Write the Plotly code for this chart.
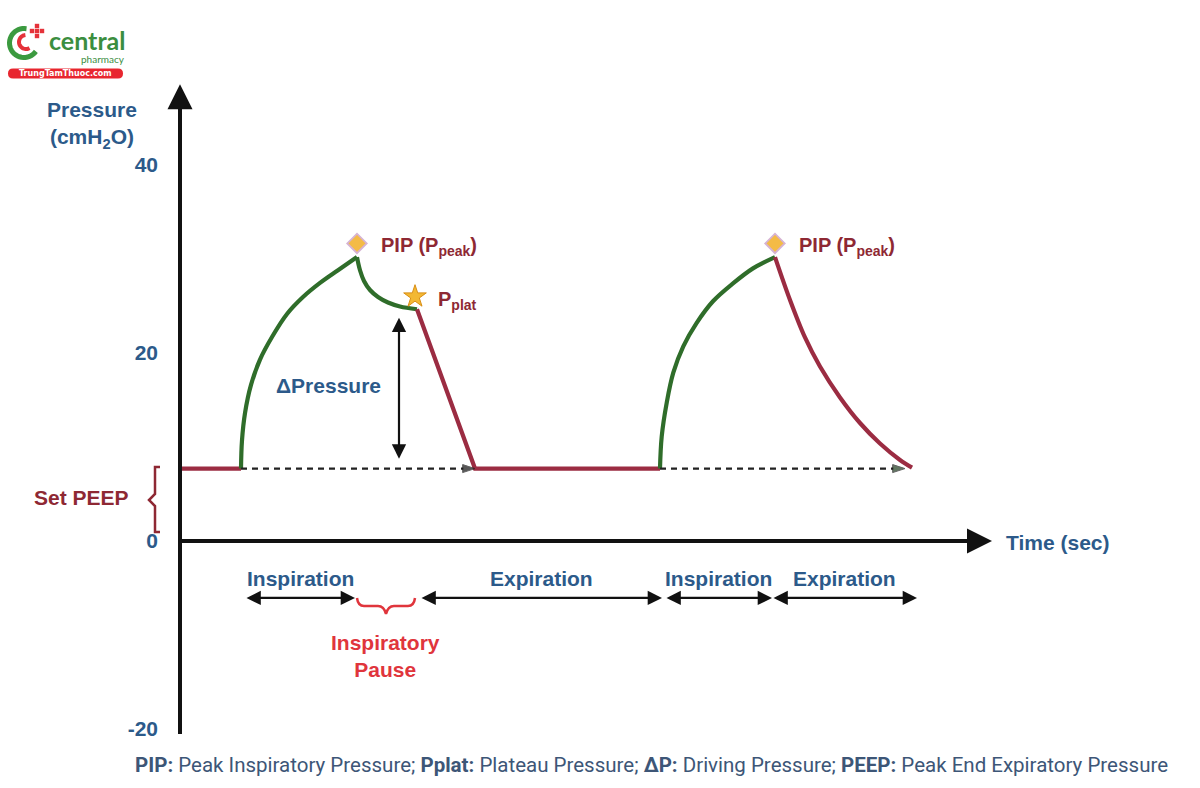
import math
import plotly.graph_objects as go

# ---------------- data (time in s, pressure in cmH2O) ----------------
peep = 7.7
baseline_t = [0.0, 0.61]
baseline_p = [peep, peep]

insp1_t = [0.61, 0.62, 0.65, 0.71, 0.80, 0.92, 1.07, 1.23, 1.40, 1.58, 1.77]
insp1_p = [7.7, 10.7, 13.6, 16.6, 19.3, 21.7, 24.15, 25.95, 27.45, 28.8, 30.2]

pause_t = [1.77, 1.80, 1.84, 1.90, 1.98, 2.08, 2.20, 2.37]
pause_p = [30.2, 28.8, 27.66, 26.7, 25.96, 25.37, 24.95, 24.65]

exp1_t = [2.37, 2.95, 4.80]
exp1_p = [24.65, 7.7, 7.7]

insp2_t = [4.80, 4.817, 4.867, 4.933, 5.033, 5.167, 5.33, 5.53, 5.73, 5.95]
insp2_p = [7.7, 11.1, 14.7, 17.9, 20.7, 23.2, 25.5, 27.4, 29.0, 30.2]

exp2_t = [5.95, 6.10, 6.25, 6.40, 6.60, 6.80, 7.00, 7.20, 7.32]
exp2_p = [30.2, 25.64, 21.65, 18.56, 15.27, 12.55, 10.37, 8.62, 7.8]

y_ticks = [40, 20, 0, -20]
y_tick_labels = ["40", "20", "0", "-20"]

phases = ["Inspiration", "Expiration", "Inspiration", "Expiration"]
phase_start = [0.65, 2.40, 4.85, 5.92]
phase_end = [1.75, 4.82, 5.92, 7.37]

# ---------------- styling ----------------
GREEN = "#2f6d2a"
MAROON = "#9b2c42"
BLUE = "#2c5a8a"
TXT_RED = "#8e2833"
BRIGHT_RED = "#e0353c"
FONT = "Liberation Sans"
FS = 21

X_RANGE = [-1.8, 10.2]
Y_RANGE = [-26.28, 57.55]
W, H = 1200, 788


def px2x(px):
    return X_RANGE[0] + px / W * (X_RANGE[1] - X_RANGE[0])


def py2y(py):
    return Y_RANGE[1] - py / H * (Y_RANGE[1] - Y_RANGE[0])


fig = go.Figure()


def line(t, p, color, spline=True):
    fig.add_trace(go.Scatter(
        x=t, y=p, mode="lines",
        line=dict(color=color, width=4.2, shape="spline" if spline else "linear", smoothing=1.0),
        hoverinfo="skip", showlegend=False))


line(baseline_t, baseline_p, MAROON, spline=False)
line(insp1_t, insp1_p, GREEN)
line(pause_t, pause_p, GREEN)
line(exp1_t, exp1_p, MAROON, spline=False)
line(insp2_t, insp2_p, GREEN)
line(exp2_t, exp2_p, MAROON)

# dashed reference arrows at PEEP level
for t0, t1, col in [(insp1_t[0], exp1_t[1], "#111111"), (insp2_t[0], exp2_t[-1] - 0.07, "#1f3d1f")]:
    fig.add_trace(go.Scatter(
        x=[t0, t1], y=[peep, peep], mode="lines+markers",
        line=dict(color="#222222", width=2.2, dash="6px,5px"),
        marker=dict(symbol="arrow", angleref="previous", size=[0, 13], color=col),
        hoverinfo="skip", showlegend=False))

# PIP and Pplat markers
fig.add_trace(go.Scatter(
    x=[insp1_t[-1], insp2_t[-1]], y=[insp1_p[-1] + 1.45, insp2_p[-1] + 1.45],
    mode="markers",
    marker=dict(symbol="diamond", size=15, color="#f4bb46", line=dict(color="#d6b3d3", width=1.8)),
    hoverinfo="skip", showlegend=False))
fig.add_trace(go.Scatter(
    x=[pause_t[-1] - 0.02], y=[pause_p[-1] + 1.35],
    mode="markers",
    marker=dict(symbol="star", size=17, color="#f3b833", line=dict(color="#d98e14", width=1)),
    hoverinfo="skip", showlegend=False))

ann = []

# axes arrows
ann.append(dict(x=0, y=48.6, ax=0, ay=-20.7, xref="x", yref="y", axref="x", ayref="y",
                showarrow=True, arrowhead=2, arrowwidth=4, arrowsize=1.25, arrowcolor="#111111", text=""))
ann.append(dict(x=8.12, y=0, ax=-0.02, ay=0, xref="x", yref="y", axref="x", ayref="y",
                showarrow=True, arrowhead=2, arrowwidth=4, arrowsize=1.25, arrowcolor="#111111", text=""))

# Delta pressure double arrow
ann.append(dict(x=2.19, y=pause_p[-1] - 0.9, ax=2.19, ay=peep + 0.9, xref="x", yref="y", axref="x", ayref="y",
                showarrow=True, arrowhead=2, arrowside="end+start", arrowwidth=2.2, arrowsize=1.3,
                arrowcolor="#111111", text=""))
ann.append(dict(x=1.485, y=16.5, xanchor="center", yanchor="middle", text="<b>ΔPressure</b>", showarrow=False,
                font=dict(family=FONT, size=FS, color=BLUE)))

# PIP / Pplat labels
for tp, pp in [(insp1_t[-1], insp1_p[-1]), (insp2_t[-1], insp2_p[-1])]:
    ann.append(dict(x=tp + 0.215, y=pp + 1.1, xanchor="left", yanchor="middle",
                    text="<b>PIP (P<sub>peak</sub>)</b>", showarrow=False,
                    font=dict(family=FONT, size=20, color=TXT_RED)))
ann.append(dict(x=pause_t[-1] + 0.19, y=pause_p[-1] + 0.9, xanchor="left", yanchor="middle",
                text="<b>P<sub>plat</sub></b>",
                showarrow=False, font=dict(family=FONT, size=20, color=TXT_RED)))

# phase arrows and labels
arrow_y = -6.06
for name, s, e in zip(phases, phase_start, phase_end):
    ann.append(dict(x=e, y=arrow_y, ax=s, ay=arrow_y, xref="x", yref="y", axref="x", ayref="y",
                    showarrow=True, arrowhead=2, arrowside="end+start", arrowwidth=2.2, arrowsize=1.3,
                    arrowcolor="#111111", text=""))
    ann.append(dict(x=(s + e) / 2, y=-4.0, xanchor="center", yanchor="middle", text=f"<b>{name}</b>",
                    showarrow=False, font=dict(family=FONT, size=FS, color=BLUE)))

ann.append(dict(x=px2x(385), y=py2y(656), xanchor="center", yanchor="middle",
                text="<b>Inspiratory<br>Pause</b>", showarrow=False,
                font=dict(family=FONT, size=FS, color=BRIGHT_RED)))

# Set PEEP label
ann.append(dict(x=px2x(81), y=py2y(497), xanchor="center", yanchor="middle", text="<b>Set PEEP</b>",
                showarrow=False, font=dict(family=FONT, size=FS, color=TXT_RED)))

# axis titles
ann.append(dict(xref="paper", yref="paper", x=92 / W, y=1 - 125 / H, xanchor="center", yanchor="middle",
                text="<b>Pressure<br>(cmH<sub>2</sub>O)</b>", showarrow=False,
                font=dict(family=FONT, size=FS, color=BLUE)))
ann.append(dict(x=px2x(1004), y=-0.2, xanchor="left", yanchor="middle", text="<b>Time (sec)</b>",
                showarrow=False, font=dict(family=FONT, size=FS, color=BLUE)))

# footnote
ann.append(dict(xref="paper", yref="paper", x=651 / W, y=1 - 765 / H, xanchor="center", yanchor="middle",
                text=("<b>PIP:</b> Peak Inspiratory Pressure; <b>Pplat:</b> Plateau Pressure; "
                      "<b>ΔP:</b> Driving Pressure; <b>PEEP:</b> Peak End Expiratory Pressure"),
                showarrow=False, font=dict(family="Roboto", size=20.5, color="#3d5677")))

# logo text
ann.append(dict(xref="paper", yref="paper", x=47 / W, y=1 - 39.5 / H, xanchor="left", yanchor="middle",
                text="<b>central</b>", showarrow=False, font=dict(family="Lato", size=25, color="#3b8e3f")))
ann.append(dict(xref="paper", yref="paper", x=79 / W, y=1 - 59 / H, xanchor="left", yanchor="middle",
                text="pharmacy", showarrow=False, font=dict(family="Lato", size=10, color="#3b8e3f")))
ann.append(dict(xref="paper", yref="paper", x=65.5 / W, y=1 - 73.5 / H, xanchor="center", yanchor="middle",
                text="<b>TrungTamThuoc.com</b>", showarrow=False,
                font=dict(family="DejaVu Sans", size=8, color="white")))

shapes = []


def P(px_, py_):
    return f"{px2x(px_):.4f},{py2y(py_):.4f}"


# Set PEEP brace
shapes.append(dict(type="path", xref="x", yref="y",
                   path=(f"M{P(160,467)} L{P(155,467)} L{P(155,494)} L{P(149,500)} "
                         f"L{P(155,506)} L{P(155,532)} L{P(160,532)}"),
                   line=dict(color=TXT_RED, width=2.5)))
# Inspiratory pause brace
shapes.append(dict(type="path", xref="x", yref="y",
                   path=(f"M{P(357,598)} Q{P(358,606)} {P(364,606)} L{P(378,606)} "
                         f"Q{P(384,606)} {P(386,614)} Q{P(388,606)} {P(394,606)} "
                         f"L{P(408,606)} Q{P(414,606)} {P(415,598)}"),
                   line=dict(color=BRIGHT_RED, width=2.5)))


def arc(cx, cy, r, a0, a1, n=30):
    pts = []
    for i in range(n + 1):
        a = math.radians(a0 + (a1 - a0) * i / n)
        pts.append(P(cx + r * math.cos(a), cy - r * math.sin(a)))
    return "M" + " L".join(pts)


shapes.append(dict(type="path", xref="x", yref="y", path=arc(24, 43, 14.5, 80, 325),
                   line=dict(color="#3b9a3f", width=5)))
shapes.append(dict(type="path", xref="x", yref="y", path=arc(26, 42, 7, 95, 300),
                   line=dict(color="#e5323a", width=4)))
for cx, cy in [(37, 31), (32, 31), (42, 31), (37, 26), (37, 36)]:
    shapes.append(dict(type="rect", xref="x", yref="y",
                       x0=px2x(cx - 2.2), x1=px2x(cx + 2.2), y0=py2y(cy + 2.2), y1=py2y(cy - 2.2),
                       fillcolor="#e5323a", line=dict(width=0)))
shapes.append(dict(type="path", xref="x", yref="y",
                   path=(f"M{P(13,68.5)} L{P(118,68.5)} Q{P(123,68.5)} {P(123,73.5)} Q{P(123,78.5)} {P(118,78.5)} "
                         f"L{P(13,78.5)} Q{P(8,78.5)} {P(8,73.5)} Q{P(8,68.5)} {P(13,68.5)} Z"),
                   fillcolor="#e8262f", line=dict(width=0), layer="below"))

fig.update_layout(
    width=W, height=H,
    margin=dict(l=0, r=0, t=0, b=0),
    paper_bgcolor="white", plot_bgcolor="white",
    showlegend=False,
    xaxis=dict(range=X_RANGE, visible=False, domain=[0, 1]),
    yaxis=dict(range=Y_RANGE, tickvals=y_ticks, ticktext=[f"<b>{s}</b>" for s in y_tick_labels],
               showgrid=False, zeroline=False,
               showline=False, ticks="", anchor="free", position=0.15, ticklabelstandoff=22,
               tickfont=dict(family=FONT, size=FS, color=BLUE), domain=[0, 1]),
    annotations=ann,
    shapes=shapes,
)

fig.write_html("out.html")
